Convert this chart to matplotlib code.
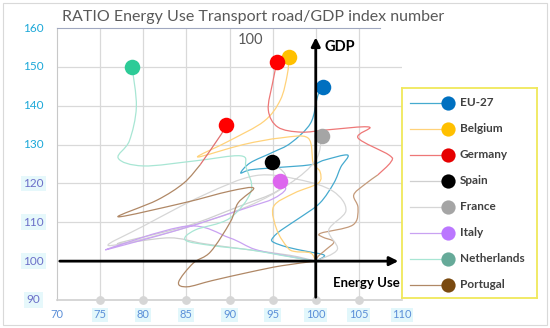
import matplotlib.pyplot as plt
from matplotlib.patches import Rectangle, PathPatch
from matplotlib.path import Path

plt.rcParams['font.family'] = ['Lato', 'DejaVu Sans']

# chart data (index numbers, base 100)
countries = ["EU-27", "Belgium", "Germany", "Spain", "France", "Italy", "Netherlands", "Portugal"]

eu_x = [100, 101, 99, 96.7, 95, 95.1, 96, 98.3, 100.5, 102.1, 102.9, 103.7, 101, 99.4, 95, 92.4, 91.3, 92.4, 95, 97.1, 99.4, 100.2, 100.8]
eu_y = [100, 101.5, 102.5, 103.6, 105, 106.2, 108, 111.4, 115, 120.1, 124.2, 127.3, 126, 124.8, 124, 123.5, 122.7, 125.3, 128, 130.4, 135.5, 142.3, 144.8]

be_x = [100, 99.4, 97.5, 96.7, 95.5, 95.1, 97.5, 100.3, 100.5, 99.7, 99.1, 95.9, 91.6, 86.3, 90, 94, 95.9, 96.7, 96.9]
be_y = [100, 102.1, 102.5, 103.6, 108, 114, 117.5, 120.1, 123, 125.3, 131.7, 131.7, 130, 126.8, 131, 136, 141.5, 148, 152.6]

de_x = [100, 100.3, 101.2, 102.1, 100.8, 100.6, 104.3, 104.9, 104.4, 105.6, 107.2, 108.7, 108.5, 104.9, 106.2, 101.4, 98.3, 95.6, 94.5, 95, 95.5]
de_y = [100, 101.3, 103, 105, 106.2, 107.2, 109.3, 113.7, 117, 119.6, 122.2, 125.5, 127.3, 131.7, 134.5, 133.8, 133.2, 134.5, 138.9, 145.9, 151.2]

es_x = [100, 97, 92, 87, 83, 77, 85, 91, 95.5, 96.5, 94.9]
es_y = [100, 101.5, 103, 104.5, 106, 104.5, 109, 114, 118, 122, 125.4]

fr_x = [100, 102.5, 101.5, 103.5, 102, 98, 93, 87, 80, 76, 84, 92, 97, 100, 100.7]
fr_y = [100, 103, 108, 113, 118, 121, 122, 117, 109, 104, 108, 114, 120, 126, 132.2]

it_x = [100, 97, 93, 90, 85, 75.6, 84, 92.4, 95, 96.5, 95.8]
it_y = [100, 101.2, 103, 106, 109, 102.9, 108, 114, 116, 118.5, 120.7]

nl_x = [100, 96, 92.4, 88, 84.9, 86, 90, 92.5, 91.9, 91.3, 86, 80, 77.1, 78.4, 79.2, 78.7]
nl_y = [100, 101.5, 102.9, 104, 105.4, 108, 111, 118, 124.2, 127.1, 125.8, 124.5, 126.5, 131, 139.7, 150]

pt_x = [100, 96, 92.4, 88, 85.1, 84.1, 85.8, 87.8, 90.1, 91, 92.8, 90, 84.7, 77.1, 81.6, 84.7, 86.6, 89, 89.6]
pt_y = [100, 98.8, 97.2, 95, 93.4, 94.6, 99.5, 102.4, 110.1, 115, 118.8, 118, 115, 111.4, 115.7, 120.1, 124.8, 132.5, 135]

paths_x = [eu_x, be_x, de_x, es_x, fr_x, it_x, nl_x, pt_x]
paths_y = [eu_y, be_y, de_y, es_y, fr_y, it_y, nl_y, pt_y]

x_ticks = [70, 75, 80, 85, 90, 95, 100, 105, 110]
y_ticks = [90, 100, 110, 120, 130, 140, 150, 160]

line_colors = ["#45AACF", "#FFD27A", "#EE7777", "#CFCFCF", "#D6D6D6", "#C9A2F2", "#A8E6D4", "#B08866"]
dot_colors = ["#0070C0", "#FFC000", "#FF0000", "#000000", "#A5A5A5", "#DD66EE", "#2DCB97", "#FF0000"]
legend_colors = ["#0070C0", "#FFC000", "#E60000", "#000000", "#A5A5A5", "#BB77FF", "#66AA99", "#7A4A10"]


# smoothed line through the points, like excel "smoothed line"
def smooth_line(ax, xs, ys, color):
    pts = list(zip(xs, ys))
    verts = [pts[0]]
    codes = [Path.MOVETO]
    n = len(pts)
    for i in range(n - 1):
        p0 = pts[i - 1] if i > 0 else pts[i]
        p1 = pts[i]
        p2 = pts[i + 1]
        p3 = pts[i + 2] if i + 2 < n else pts[i + 1]
        c1 = (p1[0] + (p2[0] - p0[0]) / 6, p1[1] + (p2[1] - p0[1]) / 6)
        c2 = (p2[0] - (p3[0] - p1[0]) / 6, p2[1] - (p3[1] - p1[1]) / 6)
        verts += [c1, c2, p2]
        codes += [Path.CURVE4] * 3
    ax.add_patch(PathPatch(Path(verts, codes), fill=False, edgecolor=color, lw=0.9, zorder=2))


fig = plt.figure(figsize=(5.5, 3.28), dpi=100)
fig.patches.append(Rectangle((0.006, 0.008), 0.988, 0.984, transform=fig.transFigure,
                             fill=False, edgecolor="#D9D9D9", lw=0.8))
ax = fig.add_axes([57 / 550, 1 - 300 / 328, 345 / 550, 272 / 328])
ax.set_xlim(70, 110)
ax.set_ylim(90, 160)

# grid
for xv in x_ticks[1:-1]:
    ax.axvline(xv, color="#D9D9D9", lw=0.9, zorder=0)
for yv in y_ticks[2:-1]:
    ax.axhline(yv, color="#D9D9D9", lw=0.9, zorder=0)

ax.spines["right"].set_visible(False)
ax.spines["top"].set_color("#A0A8C0")
ax.spines["top"].set_linestyle((0, (1, 1)))
ax.spines["top"].set_linewidth(0.8)
ax.spines["top"].set_bounds(70, 107.5)
ax.spines["left"].set_color("#C8C8C8")
ax.spines["bottom"].set_color("#D0D0D0")
ax.spines["bottom"].set_linewidth(1.2)

# trajectories
for i in range(len(countries)):
    xs, ys = paths_x[i], paths_y[i]
    if countries[i] == "Germany":
        smooth_line(ax, xs[:11], ys[:11], "#C49A7A")
        smooth_line(ax, xs[10:], ys[10:], line_colors[i])
    elif countries[i] == "Portugal":
        smooth_line(ax, xs[:17], ys[:17], line_colors[i])
        smooth_line(ax, xs[16:], ys[16:], "#E07070")
    else:
        smooth_line(ax, xs, ys, line_colors[i])
for i in range(len(countries)):
    ax.scatter(paths_x[i][-1], paths_y[i][-1], s=125, color=dot_colors[i], zorder=5, linewidths=0)

# axis arrows
ax.annotate("", xy=(109.9, 100), xytext=(70, 100),
            arrowprops=dict(arrowstyle="-|>", lw=2, color="black", mutation_scale=13), zorder=6)
ax.annotate("", xy=(100, 158.3), xytext=(100, 90),
            arrowprops=dict(arrowstyle="-|>", lw=2, color="black", mutation_scale=13), zorder=6)
ax.text(101.0, 155.2, "GDP", fontsize=10.5, fontweight="bold", va="center", ha="left")
ax.text(102.0, 94.4, "Energy Use", fontsize=9.5, fontweight="bold", va="center", ha="left", zorder=7)
ax.text(92.4, 157.0, "100", fontsize=10.5, color="#595959", va="center", ha="center")

# ticks
ax.tick_params(length=0)
ax.set_xticks(x_ticks)
ax.set_yticks(y_ticks)
ax.set_xticklabels([])
ax.set_yticklabels([])
ax.scatter(x_ticks[1:-1], [90] * len(x_ticks[1:-1]), s=28, color="#D6D6D6", clip_on=False, zorder=3)
for xv in x_ticks:
    bg = None if xv == 70 else dict(boxstyle="square,pad=0.15", fc="#E2F7FB", ec="none")
    ax.text(xv, 86.2, str(xv), fontsize=8, color="#5B8FD8", ha="center", va="center", bbox=bg)
for yv in y_ticks:
    if yv >= 130:
        ax.text(67.3, yv, str(yv), fontsize=8.5, color="#1CA8D8", ha="center", va="center")
    else:
        ax.text(67.3, yv, str(yv), fontsize=8.5, color="#6B6FC8", ha="center", va="center",
                bbox=dict(boxstyle="square,pad=0.2", fc="#E6F8FB", ec="none"))

fig.text(62 / 550, 1 - 17 / 328, "RATIO Energy Use Transport road/GDP index number",
         fontsize=11.5, color="#595959", va="center", ha="left")

# legend box
lg = fig.add_axes([402 / 550, 1 - 298 / 328, 135 / 550, 210 / 328])
lg.set_xlim(0, 135)
lg.set_ylim(210, 0)
lg.set_xticks([])
lg.set_yticks([])
for sp in lg.spines.values():
    sp.set_color("#F0E85A")
    sp.set_linewidth(1.3)
for i in range(len(countries)):
    yy = 15 + i * 26
    lg.plot([8, 46], [yy, yy], color=line_colors[i], lw=0.9)
    lg.scatter(46, yy, s=105, color=legend_colors[i], linewidths=0, zorder=3)
    lg.text(58, yy, countries[i], fontsize=8.5, fontweight="bold", color="#404040", va="center")

fig.savefig("out.png", dpi=100)
